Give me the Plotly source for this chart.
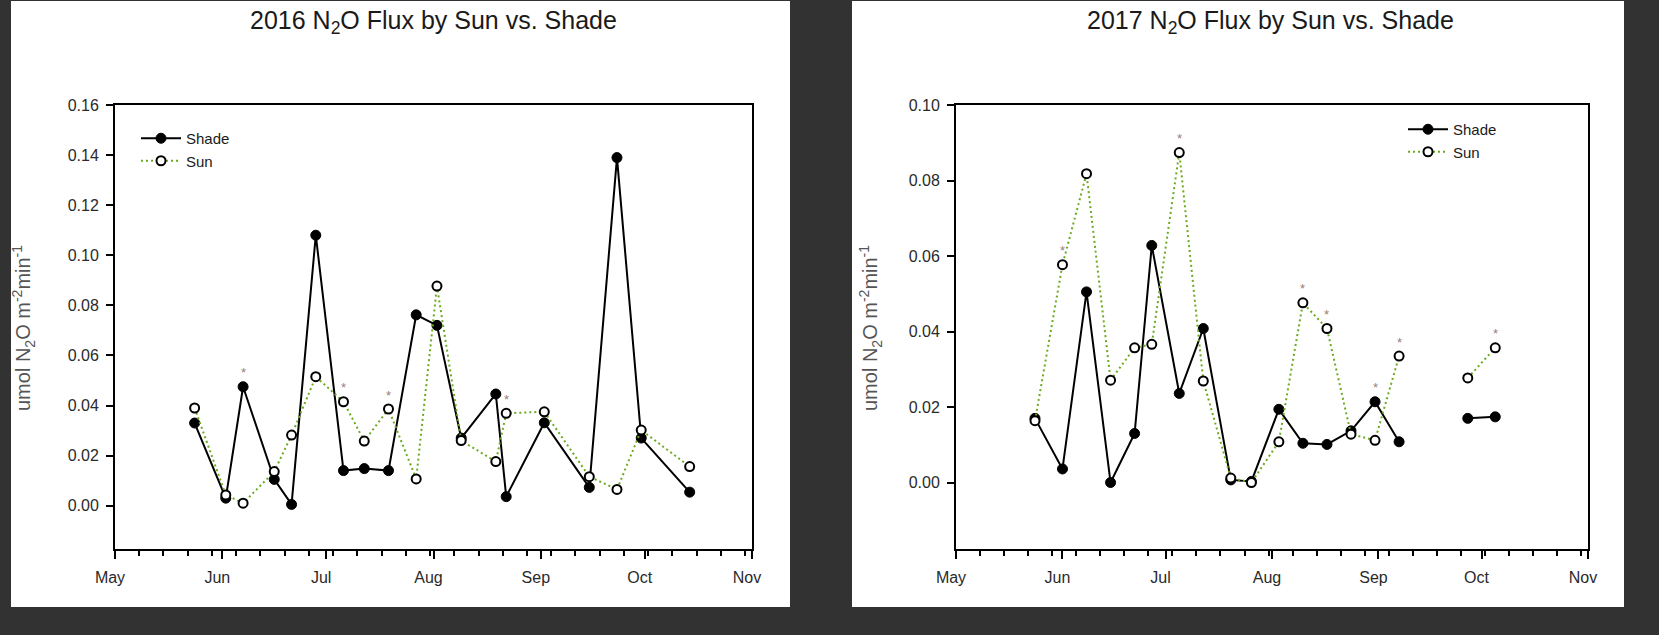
import plotly.graph_objects as go

# ---- 2016 sampling dates and N2O flux (umol N2O m-2 min-1) ----
dates_2016 = ["2016-05-24", "2016-06-02", "2016-06-07", "2016-06-16", "2016-06-21",
              "2016-06-28", "2016-07-06", "2016-07-12", "2016-07-19", "2016-07-27",
              "2016-08-02", "2016-08-09", "2016-08-19", "2016-08-22", "2016-09-02",
              "2016-09-15", "2016-09-23", "2016-09-30", "2016-10-14"]
shade_2016 = [0.033, 0.003, 0.0475, 0.0105, 0.0005, 0.108, 0.014, 0.0148, 0.014, 0.0762,
              0.072, 0.027, 0.0446, 0.0036, 0.0331, 0.0073, 0.139, 0.027, 0.0054]
sun_2016 = [0.039, 0.0043, 0.001, 0.0136, 0.0282, 0.0515, 0.0415, 0.0258, 0.0386, 0.0107,
            0.0877, 0.026, 0.0176, 0.0369, 0.0375, 0.0116, 0.0065, 0.0302, 0.0156]
# significance marks: (index into dates, series)
stars_2016 = [(2, "Shade"), (6, "Sun"), (8, "Sun"), (13, "Sun")]

# ---- 2017 (None = no sampling between early and late September) ----
dates_2017 = ["2017-05-24", "2017-06-01", "2017-06-08", "2017-06-15", "2017-06-22",
              "2017-06-27", "2017-07-05", "2017-07-12", "2017-07-20", "2017-07-26",
              "2017-08-03", "2017-08-10", "2017-08-17", "2017-08-24", "2017-08-31",
              "2017-09-07", "2017-09-17", "2017-09-27", "2017-10-05"]
shade_2017 = [0.017, 0.0036, 0.0505, 0.0, 0.013, 0.0628, 0.0236, 0.0408, 0.0007, 0.0003,
              0.0194, 0.0104, 0.0101, 0.0137, 0.0214, 0.0108, None, 0.017, 0.0174]
sun_2017 = [0.0164, 0.0577, 0.0818, 0.0271, 0.0357, 0.0366, 0.0874, 0.0269, 0.0012, 0.0,
            0.0108, 0.0476, 0.0408, 0.0128, 0.0112, 0.0335, None, 0.0277, 0.0357]
stars_2017 = [(1, "Sun"), (6, "Sun"), (11, "Sun"), (12, "Sun"), (14, "Shade"),
              (15, "Sun"), (18, "Sun")]

month_labels = ["May", "Jun", "Jul", "Aug", "Sep", "Oct", "Nov"]
month_nums = [5, 6, 7, 8, 9, 10, 11]

W, H = 1659, 635
FONT = "Liberation Sans, Arial, sans-serif"
GREEN = "#6aab1e"
BG = "#323232"


def px(x):
    return x / W


def py(y):
    return 1 - y / H


fig = go.Figure()

panels = [
    dict(year=2016, dates=dates_2016, shade=shade_2016, sun=sun_2016, stars=stars_2016,
         xa="x", ya="y", legend="legend", ymax=0.16, ymin=-0.0173, ystep=0.02),
    dict(year=2017, dates=dates_2017, shade=shade_2017, sun=sun_2017, stars=stars_2017,
         xa="x2", ya="y2", legend="legend2", ymax=0.10, ymin=-0.0176, ystep=0.02),
]

for p in panels:
    fig.add_trace(go.Scatter(
        x=p["dates"], y=p["shade"], name="Shade", mode="lines+markers",
        line=dict(color="black", width=2),
        marker=dict(symbol="circle", size=10, color="black", line=dict(color="black", width=1)),
        xaxis=p["xa"], yaxis=p["ya"], legend=p["legend"], connectgaps=False,
    ))
    fig.add_trace(go.Scatter(
        x=p["dates"], y=p["sun"], name="Sun", mode="lines+markers",
        line=dict(color=GREEN, width=2, dash="2px,3px"),
        marker=dict(symbol="circle", size=9, color="white", line=dict(color="black", width=2)),
        xaxis=p["xa"], yaxis=p["ya"], legend=p["legend"], connectgaps=False,
    ))
    series = {"Shade": p["shade"], "Sun": p["sun"]}
    for idx, name in p["stars"]:
        fig.add_annotation(
            x=p["dates"][idx], y=series[name][idx], xref=p["xa"], yref=p["ya"],
            text="*", showarrow=False, yshift=14,
            font=dict(family=FONT, size=13, color="#9a807a"),
        )

# frame geometry (pixels)
left_dom = [px(115), px(752)]
right_dom = [px(956), px(1588)]
y_dom = [py(549), py(105)]

axis_common = dict(showline=True, mirror=True, linecolor="black", linewidth=2,
                   showgrid=False, zeroline=False, automargin=False,
                   tickfont=dict(family=FONT, size=16, color="#2a2a2a"))

for i, p in enumerate(panels):
    yr = p["year"]
    xkey = "xaxis" if i == 0 else "xaxis2"
    ykey = "yaxis" if i == 0 else "yaxis2"
    tickvals = [f"{yr}-{m:02d}-01" for m in month_nums]
    fig.update_layout(**{
        xkey: dict(axis_common, domain=left_dom if i == 0 else right_dom,
                   anchor="y" if i == 0 else "y2", type="date",
                   range=[f"{yr}-05-01", f"{yr}-11-01"],
                   tickmode="array", tickvals=tickvals, ticktext=month_labels,
                   ticks="outside", ticklen=8, tickwidth=1.5, tickcolor="black",
                   ticklabelstandoff=5, ticklabelshift=-5,
                   minor=dict(tickmode="linear", tick0=f"{yr}-05-01", dtick=7 * 86400000,
                              ticks="outside", ticklen=5, tickwidth=1.5, tickcolor="black")),
        ykey: dict(axis_common, domain=y_dom, anchor="x" if i == 0 else "x2",
                   range=[p["ymin"], p["ymax"]],
                   tickmode="linear", tick0=0, dtick=p["ystep"], tickformat=".2f",
                   ticks="outside", ticklen=7, tickwidth=1.5, tickcolor="black",
                   ticklabelstandoff=4),
    })

# white panels behind each chart
for x0, x1 in [(11, 790), (852, 1624)]:
    fig.add_shape(type="rect", xref="paper", yref="paper",
                  x0=px(x0), x1=px(x1), y0=py(607), y1=py(1),
                  fillcolor="white", line=dict(width=0), layer="below")

# titles and y-axis labels
ytitle = "umol N<sub>2</sub>O m<sup>-2</sup>min<sup>-1</sup>"
for cx, yr, tx in [(433, 2016, 23), (1270, 2017, 870)]:
    fig.add_annotation(x=px(cx), y=py(22), xref="paper", yref="paper",
                       text=f"{yr} N<sub>2</sub>O Flux by Sun vs. Shade", showarrow=False,
                       font=dict(family=FONT, size=25, color="#1a1a1a"),
                       xanchor="center", yanchor="middle")
    fig.add_annotation(x=px(tx), y=py(328), xref="paper", yref="paper",
                       text=ytitle, showarrow=False, textangle=-90,
                       font=dict(family=FONT, size=20, color="#555555"),
                       xanchor="center", yanchor="middle")

legend_common = dict(bgcolor="rgba(0,0,0,0)", borderwidth=0,
                     font=dict(family=FONT, size=15, color="#1a1a1a"),
                     xanchor="left", yanchor="top", itemwidth=40, tracegroupgap=0)

fig.update_layout(
    width=W, height=H,
    margin=dict(l=0, r=0, t=0, b=0, autoexpand=False),
    paper_bgcolor=BG, plot_bgcolor="white",
    showlegend=True,
    legend=dict(legend_common, x=px(136), y=py(122)),
    legend2=dict(legend_common, x=px(1403), y=py(113)),
)

fig.write_html("out.html")
